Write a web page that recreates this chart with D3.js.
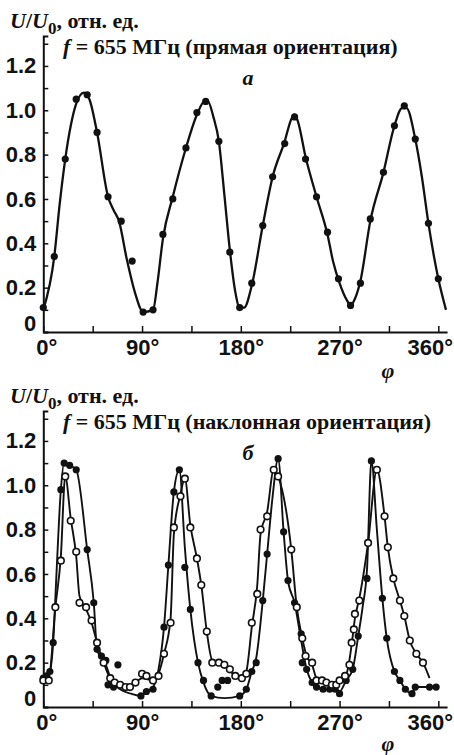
<!DOCTYPE html>
<html lang="ru">
<head>
<meta charset="UTF-8">
<title>U/U0 от угла φ, f = 655 МГц</title>
<script src="https://d3js.org/d3.v7.min.js"></script>
<style>
  body { margin: 0; background: #fff; }
  svg { display: block; font-family: "Liberation Serif", "DejaVu Serif", serif; }
  .tick text { font-size: 22px; font-weight: bold; fill: #111; }
  .axis path, .axis line { stroke: #111; }
  .title { font-size: 22px; font-weight: bold; fill: #111; }
</style>
</head>
<body>
<div id="chart"></div>
<script>
// [угол φ, U/U0] — верхний график (прямая ориентация)
const topPoints = [[0,0.11],[10,0.34],[20,0.78],[30,1.05],[40,1.07],[49,0.90],[59,0.61],[71,0.50],[81,0.32],[91,0.09],[100,0.10],[109,0.44],[118,0.60],[130,0.83],[140,0.99],[148,1.04],[160,0.86],[170,0.36],[179,0.11],[190,0.22],[200,0.48],[209,0.70],[220,0.85],[229,0.97],[239,0.78],[249,0.61],[259,0.45],[269,0.24],[280,0.12],[289,0.22],[298,0.51],[310,0.72],[320,0.93],[329,1.02],[339,0.87],[351,0.49],[360,0.24]];
const topCurve = [[0,0.10],[10,0.34],[15,0.58],[20,0.78],[25,0.93],[30,1.03],[37,1.08],[42,1.05],[49,0.90],[59,0.61],[64,0.55],[69,0.50],[76,0.33],[84,0.17],[91,0.09],[100,0.10],[104,0.22],[109,0.42],[118,0.61],[130,0.83],[140,0.98],[147,1.04],[150,1.04],[155,0.97],[160,0.86],[165,0.62],[170,0.37],[175,0.18],[179,0.11],[183,0.11],[190,0.21],[200,0.48],[209,0.70],[220,0.86],[226,0.96],[229,0.98],[232,0.95],[239,0.79],[249,0.61],[259,0.44],[264,0.32],[270,0.22],[277,0.14],[280,0.12],[284,0.15],[289,0.23],[298,0.50],[310,0.72],[320,0.93],[327,1.01],[331,1.01],[339,0.87],[345,0.70],[351,0.49],[360,0.24],[367,0.10]];

// нижний график (наклонная ориентация): тёмные и светлые точки
const solidPoints = [[0,0.13],[3,0.14],[6,0.16],[9,0.29],[16,0.98],[19,1.10],[24,1.09],[30,1.07],[40,0.71],[46,0.47],[49,0.26],[53,0.23],[57,0.21],[59,0.10],[64,0.09],[68,0.19],[89,0.05],[94,0.07],[100,0.08],[110,0.36],[114,0.64],[119,0.97],[124,1.07],[129,0.63],[134,0.44],[141,0.20],[146,0.12],[153,0.05],[159,0.09],[163,0.12],[168,0.12],[179,0.05],[185,0.08],[190,0.16],[194,0.20],[200,0.48],[204,0.69],[214,1.12],[219,0.79],[223,0.57],[229,0.47],[235,0.33],[236,0.20],[240,0.17],[245,0.11],[249,0.09],[255,0.08],[261,0.08],[266,0.08],[270,0.06],[276,0.12],[282,0.17],[287,0.32],[295,0.58],[299,1.11],[309,0.49],[313,0.31],[320,0.16],[325,0.12],[330,0.08],[336,0.06],[339,0.09],[352,0.09],[358,0.09]];
const solidCurve = [[0,0.13],[3,0.14],[6,0.16],[9,0.29],[12,0.60],[16,0.98],[19,1.10],[24,1.09],[30,1.07],[40,0.71],[46,0.47],[49,0.26],[53,0.22],[57,0.19],[62,0.12],[70,0.08],[80,0.06],[89,0.05],[94,0.07],[100,0.09],[105,0.17],[110,0.36],[114,0.64],[119,0.97],[124,1.07],[129,0.72],[134,0.44],[141,0.20],[146,0.11],[153,0.05],[165,0.04],[179,0.05],[185,0.08],[190,0.16],[194,0.22],[200,0.48],[204,0.69],[209,0.95],[214,1.12],[219,0.79],[223,0.57],[229,0.47],[235,0.30],[240,0.17],[245,0.11],[249,0.09],[255,0.08],[261,0.08],[266,0.08],[270,0.07],[276,0.12],[282,0.17],[287,0.32],[291,0.45],[295,0.62],[299,1.11],[304,0.80],[309,0.49],[313,0.31],[320,0.16],[325,0.12],[330,0.08],[336,0.06],[339,0.09],[345,0.09],[352,0.09],[358,0.09]];
const openPoints = [[0,0.12],[5,0.12],[11,0.45],[16,0.66],[20,1.04],[25,0.84],[30,0.70],[33,0.47],[39,0.45],[44,0.39],[49,0.29],[55,0.20],[61,0.13],[65,0.11],[70,0.10],[75,0.09],[79,0.09],[84,0.11],[90,0.15],[94,0.14],[100,0.12],[105,0.14],[110,0.24],[116,0.38],[119,0.81],[125,0.95],[129,1.03],[134,0.81],[140,0.67],[144,0.55],[149,0.34],[154,0.20],[160,0.20],[165,0.19],[170,0.17],[175,0.14],[181,0.13],[185,0.15],[190,0.38],[195,0.51],[198,0.80],[204,0.86],[210,1.07],[214,1.04],[226,0.71],[231,0.45],[236,0.31],[239,0.23],[245,0.20],[249,0.12],[254,0.12],[258,0.11],[263,0.10],[267,0.10],[270,0.12],[275,0.14],[279,0.19],[281,0.29],[283,0.35],[284,0.42],[288,0.48],[296,0.74],[304,1.07],[311,0.86],[314,0.72],[319,0.58],[325,0.48],[329,0.41],[334,0.30],[340,0.24],[346,0.20]];
const openCurve = [[0,0.12],[5,0.13],[11,0.45],[16,0.68],[20,1.04],[25,0.85],[30,0.68],[33,0.50],[39,0.44],[44,0.38],[49,0.29],[55,0.20],[61,0.13],[70,0.10],[79,0.09],[90,0.13],[100,0.12],[105,0.15],[110,0.24],[116,0.40],[119,0.78],[125,0.96],[129,1.03],[134,0.82],[140,0.67],[144,0.55],[149,0.34],[154,0.21],[165,0.19],[175,0.14],[181,0.13],[185,0.16],[190,0.36],[195,0.55],[198,0.78],[204,0.88],[210,1.07],[214,1.04],[226,0.71],[231,0.45],[236,0.31],[240,0.23],[245,0.19],[249,0.13],[258,0.11],[267,0.10],[272,0.12],[277,0.16],[281,0.28],[284,0.40],[288,0.49],[296,0.74],[304,1.07],[311,0.86],[314,0.72],[319,0.58],[325,0.48],[329,0.41],[334,0.30],[340,0.24],[346,0.20],[352,0.13]];

const xTicks = [0, 45, 90, 135, 180, 225, 270, 315, 360];
const xLabels = [0, 90, 180, 270, 360];
const yTicks = [0, 0.1, 0.2, 0.3, 0.4, 0.5, 0.6, 0.7, 0.8, 0.9, 1.0, 1.1, 1.2, 1.3];
const yLabels = [0, 0.2, 0.4, 0.6, 0.8, 1.0, 1.2];
const titles = ["прямая ориентация", "наклонная ориентация"];
const letters = ["а", "б"];

const width = 454, height = 755;
const svg = d3.select("#chart").append("svg")
    .attr("width", width)
    .attr("height", height);

const x = d3.scaleLinear().domain([0, 368]).range([43.3, 447.1]);

const line = d3.line()
    .x(d => x(d[0]))
    .curve(d3.curveMonotoneX);

function drawPanel(i, series) {
    const off = i * 375;
    const y = d3.scaleLinear().domain([0, 1.335]).range([332 + off, 36 + off]);
    line.y(d => y(d[1]));
    const g = svg.append("g");

    // ось Y
    const yAxis = g.append("g")
        .attr("class", "axis")
        .attr("transform", "translate(43.3,0)")
        .call(d3.axisLeft(y)
            .tickValues(yTicks)
            .tickSize(-5)
            .tickPadding(7)
            .tickFormat(d => yLabels.some(v => Math.abs(v - d) < 1e-6) ? (d === 0 ? "0" : d.toFixed(1)) : ""));
    yAxis.select(".domain").attr("stroke-width", 2);
    yAxis.selectAll(".tick line").attr("stroke-width", 1.5);
    yAxis.selectAll(".tick text").filter(d => d === 0).attr("dy", "-0.05em");

    // ось X
    const xAxis = g.append("g")
        .attr("class", "axis")
        .attr("transform", `translate(0,${y(0)})`)
        .call(d3.axisBottom(x)
            .tickValues(xTicks)
            .tickSizeInner(-6)
            .tickSizeOuter(0)
            .tickPadding(7)
            .tickFormat(d => xLabels.includes(d) ? d + "°" : ""));
    xAxis.select(".domain").attr("stroke-width", 2);
    xAxis.selectAll(".tick line").attr("stroke-width", 1.5);
    xAxis.selectAll(".tick text").attr("dx", d => d === 0 ? 3 : 0);
    xAxis.selectAll(".tick text").filter(d => d === 360)
        .attr("text-anchor", "end")
        .attr("dx", width - 1.5 - x(360));

    // подписи
    const yt = g.append("text").attr("class", "title").attr("x", 10).attr("y", 28 + off);
    yt.append("tspan").attr("font-style", "italic").text("U");
    yt.append("tspan").text("/");
    yt.append("tspan").attr("font-style", "italic").text("U");
    yt.append("tspan").attr("dy", 6).attr("font-size", 17).text("0");
    yt.append("tspan").attr("dy", -6).text(", отн. ед.");

    const t = g.append("text").attr("class", "title").attr("x", 63).attr("y", 54 + off);
    t.append("tspan").attr("font-style", "italic").text("f");
    t.append("tspan").text(" = 655 МГц (" + titles[i] + ")");

    g.append("text").attr("class", "title")
        .attr("x", 248).attr("y", 85 + off)
        .attr("text-anchor", "middle")
        .attr("font-style", "italic")
        .text(letters[i]);

    g.append("text").attr("class", "title")
        .attr("x", 388).attr("y", 378 + off - i * 2)
        .attr("text-anchor", "middle")
        .attr("font-style", "italic")
        .attr("font-size", 20)
        .text("φ");

    // кривые и точки
    series.forEach(s => {
        g.append("path")
            .datum(s.curve)
            .attr("fill", "none")
            .attr("stroke", "#111")
            .attr("stroke-width", s.lw)
            .attr("d", line);
    });
    series.forEach(s => {
        g.append("g").selectAll("circle")
            .data(s.points)
            .join("circle")
            .attr("cx", d => x(d[0]))
            .attr("cy", d => y(d[1]))
            .attr("r", s.open ? 3.3 : 3.6)
            .attr("fill", s.open ? "#fff" : "#111")
            .attr("stroke", "#111")
            .attr("stroke-width", s.open ? 1.6 : 0);
    });
}

drawPanel(0, [{ points: topPoints, curve: topCurve, open: false, lw: 2.3 }]);
drawPanel(1, [
    { points: solidPoints, curve: solidCurve, open: false, lw: 1.9 },
    { points: openPoints, curve: openCurve, open: true, lw: 1.9 }
]);
</script>
</body>
</html>
